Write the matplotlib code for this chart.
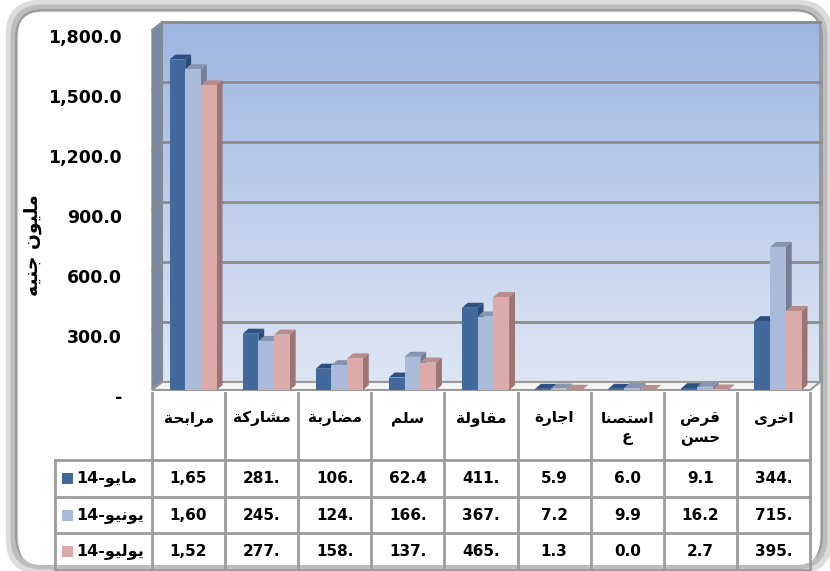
import numpy as np
import matplotlib
matplotlib.use("Agg")
import matplotlib.pyplot as plt
from matplotlib.patches import Polygon, Rectangle, FancyBboxPatch
from matplotlib.transforms import ScaledTranslation

plt.rcParams['font.family'] = ['DejaVu Sans']
plt.rcParams['font.weight'] = 'bold'

# data (million EGP), categories left to right as in the chart
categories = ['مرابحة', 'مشاركة', 'مضاربة', 'سلم', 'مقاولة', 'اجارة', 'استصنا\nع', 'قرض\nحسن', 'اخرى']
months = ['مايو', 'يونيو', 'يوليو']
year = '14'
may = [1652.3, 281.4, 106.3, 62.4, 411.2, 5.9, 6.0, 9.1, 344.2]
june = [1604.1, 245.3, 124.5, 166.2, 367.4, 7.2, 9.9, 16.2, 715.3]
july = [1523.5, 277.1, 158.2, 137.4, 465.1, 1.3, 0.0, 2.7, 395.2]
series = [may, june, july]
yticks = [0, 300, 600, 900, 1200, 1500, 1800]
ylabel = 'مليون جنيه'

front = ['#41699c', '#aabbd9', '#dcaaa9']
top = ['#2c5082', '#8796b0', '#b88d8c']
side = ['#2a4a78', '#747f95', '#9c7473']

# matplotlib has no arabic shaping, so pick the presentation forms by hand
DUAL = {'ب': 0xFE8F, 'ت': 0xFE95, 'ج': 0xFE9D, 'ح': 0xFEA1, 'خ': 0xFEA5,
        'س': 0xFEB1, 'ش': 0xFEB5, 'ص': 0xFEB9, 'ض': 0xFEBD, 'ع': 0xFEC9,
        'ق': 0xFED5, 'ك': 0xFED9, 'ل': 0xFEDD, 'م': 0xFEE1, 'ن': 0xFEE5,
        'ه': 0xFEE9, 'ي': 0xFEF1}
RIGHT = {'ا': 0xFE8D, 'ة': 0xFE93, 'ر': 0xFEAD, 'و': 0xFEED, 'ى': 0xFEEF, 'د': 0xFEA9}
ALL = {**DUAL, **RIGHT}


def shape_line(s):
    out = []
    for i, ch in enumerate(s):
        if ch not in ALL:
            out.append(ch)
            continue
        prev = s[i - 1] if i > 0 else ''
        nxt = s[i + 1] if i + 1 < len(s) else ''
        jp = prev in DUAL
        jn = ch in DUAL and nxt in ALL
        base = ALL[ch]
        if jp and jn:
            c = base + 3
        elif jp:
            c = base + 1
        elif jn:
            c = base + 2
        else:
            c = base
        out.append(chr(c))
    return ''.join(out[::-1])


def shape(s):
    return '\n'.join(shape_line(l) for l in s.split('\n'))


W, H = 830, 571
fig = plt.figure(figsize=(W / 100, H / 100), dpi=100)

# background frame in pixel coords
bg = fig.add_axes([0, 0, 1, 1])
bg.set_xlim(0, W)
bg.set_ylim(H, 0)
bg.axis('off')
for pad, lw, col in [(0, 9, '#dcdcdc'), (2, 5, '#bdbdbd'), (4, 1.5, '#9a9a9a')]:
    bg.add_patch(FancyBboxPatch((12 + pad, 6 + pad), 814 - 2 * pad, 562 - 2 * pad,
                                boxstyle='round,pad=0,rounding_size=28',
                                fc='none', ec=col, lw=lw))
bg.add_patch(FancyBboxPatch((19, 13), 800, 552, boxstyle='round,pad=0,rounding_size=22',
                            fc='white', ec='none'))

n = len(categories)
ax = fig.add_axes([152 / W, 1 - 390 / H, (810 - 152) / W, 360 / H])
ax.patch.set_visible(False)
for s in ax.spines.values():
    s.set_visible(False)

dx, dy = 0.14, 40  # depth of the floor / wall
bdx, bdy = 0.08, 25  # depth of one bar
grid_c = '#8c8c8c'

# back wall with gradient
c_top = np.array([157, 182, 226]) / 255
c_bot = np.array([222, 230, 244]) / 255
grad = np.linspace(0, 1, 256)[:, None, None]
img = c_top * (1 - grad) + c_bot * grad
ax.imshow(img, extent=(dx, n + dx, dy, 1800 + dy), aspect='auto', origin='upper',
          zorder=0, clip_on=False)
ax.add_patch(Rectangle((dx, dy), n, 1800, fc='none', ec='#9a9a9a', lw=1.5, zorder=1,
                       clip_on=False))
# left side wall
ax.add_patch(Polygon([(0, 0), (dx, dy), (dx, 1800 + dy), (0, 1800)], closed=True,
                     fc='#7b8aa3', ec='#8a8a8a', lw=1, zorder=1, clip_on=False))
# floor
ax.add_patch(Polygon([(0, 0), (n, 0), (n + dx, dy), (dx, dy)], closed=True,
                     fc='#f4f4f4', ec='#9a9a9a', lw=1.5, zorder=1, clip_on=False))
for v in yticks[1:]:
    ax.plot([dx, n + dx], [v + dy, v + dy], color=grid_c, lw=2, zorder=1.5, clip_on=False)
    ax.plot([0, dx], [v, v + dy], color=grid_c, lw=1.2, zorder=1.5, clip_on=False)

lefts = [0.24, 0.455, 0.67]
w = 0.215
for i in range(n):
    for k, vals in enumerate(series):
        x = i + lefts[k]
        v = vals[i]
        z = 3 + k * 0.3
        ax.add_patch(Polygon([(x + w, 0), (x + w + bdx, bdy), (x + w + bdx, v + bdy), (x + w, v)],
                             closed=True, fc=side[k], ec='none', zorder=z))
        ax.add_patch(Polygon([(x, v), (x + w, v), (x + w + bdx, v + bdy), (x + bdx, v + bdy)],
                             closed=True, fc=top[k], ec='none', zorder=z))
    for k, vals in enumerate(series):
        ax.bar([i + lefts[k]], [vals[i]], width=w, align='edge', color=front[k],
               zorder=3.1 + k * 0.3, linewidth=0)

ax.set_xlim(0, n)
ax.set_ylim(0, 1800)
ax.set_xticks([])
ax.set_yticks([])

# value axis labels sit a little below the front plane, as in the 3d original
lab_tr = ax.get_yaxis_transform() + ScaledTranslation(-30 / 100, -8 / 100, fig.dpi_scale_trans)
for v in yticks:
    ax.text(0, v, f'{v:,.1f}' if v else '-', transform=lab_tr, ha='right', va='center',
            fontsize=12.5, fontweight='bold', clip_on=False)

fig.text(33 / W, 1 - 245 / H, shape(ylabel), rotation=90, ha='center', va='center',
         fontsize=13.5, fontweight='bold')

# data table under the chart, x in category units, y in pixels
x0 = -(152 - 55) / ((810 - 152) / n)
tax = fig.add_axes([55 / W, 1 - 570 / H, (810 - 55) / W, (570 - 393) / H])
tax.set_xlim(x0, n)
tax.set_ylim(570, 393)
tax.axis('off')
line_c = '#9c9c9c'
rows = [460, 497, 533, 570]
for i in range(n + 1):
    tax.plot([i, i], [393, 570], color=line_c, lw=2, clip_on=False)
tax.plot([x0, x0], [460, 570], color=line_c, lw=2, clip_on=False)
for r in rows:
    tax.plot([x0, n], [r, r], color=line_c, lw=2, clip_on=False)

for i, cat in enumerate(categories):
    tax.text(i + 0.5, 411, shape(cat), ha='center', va='top', fontsize=11,
             fontweight='bold', linespacing=1.25)

for k, vals in enumerate(series):
    yc = (rows[k] + rows[k + 1]) / 2
    tax.add_patch(Rectangle((x0 + 0.09, yc - 5.5), 0.15, 11, fc=front[k], ec='none'))
    tax.text(x0 + 0.29, yc, year + '-' + shape(months[k]), ha='left', va='center',
             fontsize=11.5, fontweight='bold')
    for i, v in enumerate(vals):
        tax.text(i + 0.5, yc, f'{v:,.1f}'[:4], ha='center', va='center',
                 fontsize=11, fontweight='bold')

fig.savefig('out.png', dpi=100)
